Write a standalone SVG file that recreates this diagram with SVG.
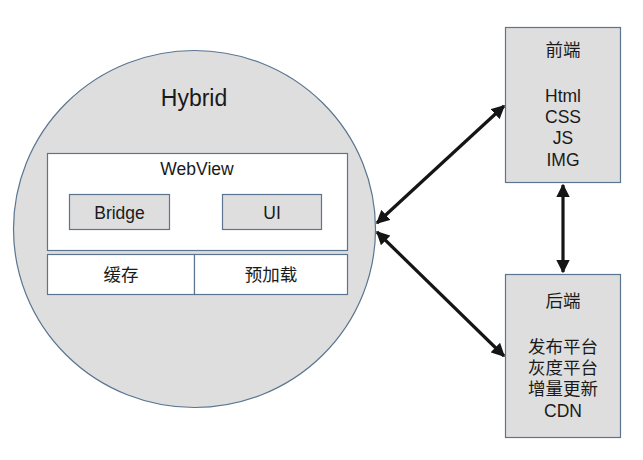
<svg xmlns="http://www.w3.org/2000/svg" width="643" height="460" viewBox="0 0 643 460">
<defs>
<style>
.t{font-family:"Liberation Sans","Noto Sans CJK SC",sans-serif;fill:#1a1a1a;text-anchor:middle;}
.s16{font-size:17.5px;}
.gray{fill:#dedede;stroke:#5b7590;stroke-width:1.2;}
.white{fill:#ffffff;stroke:#5b7590;stroke-width:1.2;}
.conn{stroke:#151515;stroke-width:3.2;fill:none;marker-start:url(#ah);marker-end:url(#ah);}
</style>
<marker id="ah" viewBox="0 0 10 10" refX="9" refY="5" markerWidth="4.2" markerHeight="4.2" orient="auto-start-reverse" markerUnits="strokeWidth">
<path d="M0,0 L10,5 L0,10 z" fill="#151515"/>
</marker>
</defs>
<rect width="643" height="460" fill="#ffffff"/>
<g id="hybrid">
<ellipse class="gray" cx="194.5" cy="229" rx="181" ry="178.5"/>
<text class="t" x="194" y="106" font-size="23">Hybrid</text>
</g>
<g id="webview">
<rect class="white" x="47.5" y="153.5" width="300" height="97"/>
<text class="t s16" x="197" y="175">WebView</text>
</g>
<g id="bridge">
<rect class="gray" x="69.5" y="194.5" width="100" height="35"/>
<text class="t s16" x="119.5" y="218.5">Bridge</text>
</g>
<g id="ui">
<rect class="gray" x="222.5" y="194.5" width="99" height="35"/>
<text class="t s16" x="272" y="218.5">UI</text>
</g>
<g id="cache">
<rect class="white" x="47.5" y="254.5" width="147" height="40"/>
<text class="t s16" x="121" y="281">缓存</text>
</g>
<g id="preload">
<rect class="white" x="194.5" y="254.5" width="153" height="40"/>
<text class="t s16" x="271" y="281">预加载</text>
</g>
<g id="frontend">
<rect class="gray" x="505.5" y="27.5" width="115" height="155"/>
<text class="t s16" x="563" y="56">前端</text>
<text class="t s16" x="563" y="102">Html</text>
<text class="t s16" x="563" y="123">CSS</text>
<text class="t s16" x="563" y="144">JS</text>
<text class="t s16" x="563" y="166">IMG</text>
</g>
<g id="backend">
<rect class="gray" x="505.5" y="274.5" width="115" height="163"/>
<text class="t s16" x="563" y="307">后端</text>
<text class="t s16" x="563" y="353">发布平台</text>
<text class="t s16" x="563" y="374">灰度平台</text>
<text class="t s16" x="563" y="395">增量更新</text>
<text class="t s16" x="563" y="417">CDN</text>
</g>
<g id="connectors">
<line class="conn" x1="377" y1="223" x2="504" y2="106"/>
<line class="conn" x1="377" y1="232" x2="504" y2="356"/>
<line class="conn" x1="563" y1="185" x2="563" y2="272"/>
</g>
</svg>
